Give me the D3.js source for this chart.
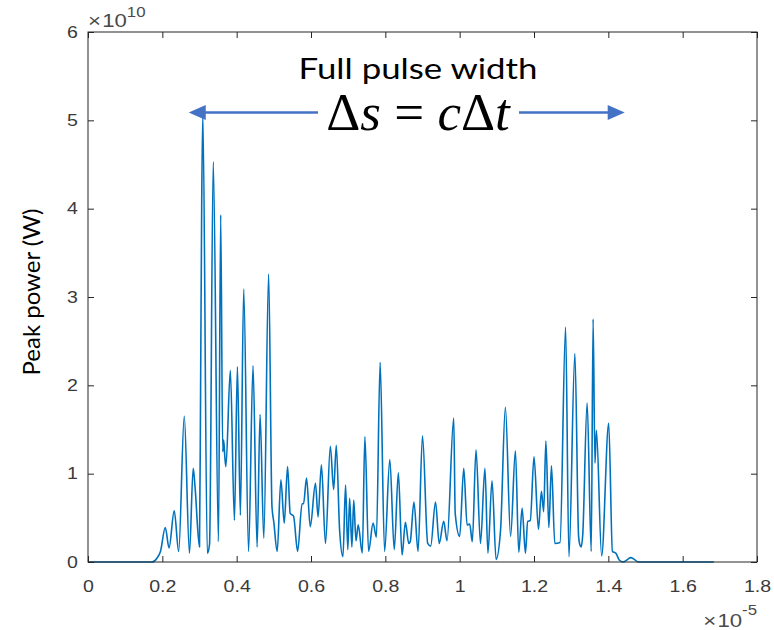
<!DOCTYPE html>
<html>
<head>
<meta charset="utf-8">
<script src="https://cdn.jsdelivr.net/npm/d3@7"></script>
<style>
  html, body { margin: 0; padding: 0; background: #fff; }
  svg { display: block; }
</style>
</head>
<body>
<svg id="chart" width="774" height="630"></svg>
<script>
// time in units of 1e-5 s
const time = [0, 0.172, 0.185, 0.195, 0.208, 0.218, 0.232, 0.244, 0.259, 0.273, 0.283, 0.288, 0.300,
  0.303, 0.306, 0.309, 0.321, 0.327, 0.337, 0.351, 0.357, 0.3625, 0.365, 0.368, 0.371, 0.383, 0.394,
  0.402, 0.410, 0.419, 0.432, 0.444, 0.455, 0.463, 0.473, 0.486, 0.495, 0.500, 0.509, 0.519, 0.528,
  0.537, 0.544, 0.553, 0.564, 0.576, 0.580, 0.588, 0.598, 0.612, 0.619, 0.628, 0.639, 0.652, 0.661,
  0.668, 0.677, 0.686, 0.693, 0.699, 0.704, 0.710, 0.715, 0.721, 0.727, 0.738, 0.745, 0.755, 0.767,
  0.776, 0.786, 0.798, 0.812, 0.824, 0.835, 0.845, 0.854, 0.863, 0.867, 0.877, 0.888, 0.900, 0.914,
  0.922, 0.935, 0.945, 0.957, 0.966, 0.984, 0.988, 1.000, 1.011, 1.020, 1.027, 1.034, 1.044, 1.056,
  1.068, 1.076, 1.087, 1.098, 1.110, 1.123, 1.137, 1.150, 1.159, 1.168, 1.177, 1.183, 1.190, 1.200,
  1.212, 1.220, 1.226, 1.232, 1.240, 1.247, 1.256, 1.270, 1.285, 1.294, 1.310, 1.320, 1.323, 1.327,
  1.331, 1.343, 1.354, 1.359, 1.364, 1.368, 1.382, 1.401, 1.411, 1.420, 1.430, 1.441, 1.452, 1.460,
  1.470, 1.480, 1.684];
// peak power in units of 1e10 W
const power = [0, 0, 0.04, 0.12, 0.39, 0.16, 0.58, 0.12, 1.65, 0.10, 1.06, 0.85, 0.17,
  2.0, 4.1, 5.08, 0.10, 0.2, 4.53, 0.23, 3.93, 1.25, 1.38, 1.2, 1.08, 2.17, 0.47,
  2.21, 0.53, 3.09, 0.12, 2.22, 0.17, 1.67, 0.27, 3.26, 0.63, 0.45, 0.12, 0.93, 0.44,
  1.08, 0.55, 0.52, 0.12, 0.66, 0.66, 0.95, 0.40, 0.89, 0.51, 1.10, 0.21, 1.31, 0.82,
  1.32, 0.36, 0.06, 0.87, 0.14, 0.72, 0.17, 0.70, 0.24, 0.42, 0.10, 1.42, 0.12, 0.44,
  0.28, 2.26, 0.12, 1.16, 0.14, 1.01, 0.08, 0.45, 0.21, 0.23, 0.68, 0.12, 1.43, 0.21,
  0.18, 0.68, 0.21, 0.46, 0.24, 1.63, 0.55, 0.29, 1.06, 0.42, 0.43, 0.23, 1.27, 0.21,
  1.06, 0.10, 0.92, 0.03, 0.36, 1.75, 0.29, 1.26, 0.11, 0.61, 0.10, 0.46, 0.47, 1.19,
  0.37, 0.80, 0.57, 1.37, 0.39, 1.09, 0.21, 0.22, 2.66, 0.06, 2.36, 0.29, 0.2, 0.17,
  0.3, 1.80, 0.12, 2.75, 1.12, 1.49, 0.07, 1.57, 0.12, 0.10, 0.02, 0.0, 0.03, 0.05,
  0.03, 0.0, 0];

const xTicks = [0, 0.2, 0.4, 0.6, 0.8, 1, 1.2, 1.4, 1.6, 1.8];
const yTicks = [0, 1, 2, 3, 4, 5, 6];
const xTickLabels = ["0", "0.2", "0.4", "0.6", "0.8", "1", "1.2", "1.4", "1.6", "1.8"];
const yTickLabels = ["0", "1", "2", "3", "4", "5", "6"];
const yLabel = "Peak power (W)";
const titleText = "Full pulse width";
// arrow annotation extent (data units)
const arrowStart = 0.271, arrowEnd = 1.444, arrowLevel = 5.09;

const svg = d3.select("#chart");
const mLeft = 88, mRight = 757, mTop = 32, mBottom = 562;
const x = d3.scaleLinear().domain([0, 1.8]).range([mLeft, mRight]);
const y = d3.scaleLinear().domain([0, 6]).range([mBottom, mTop]);
const axisColor = "#262626";
const labelColor = "#3a3a3a";
const tickFont = "'Liberation Sans', Arial, sans-serif";
const SX = 1.2; // horizontal stretch of the reference's text
const tickSize = 16.3;

// data line
const data = time.map((t, i) => ({ t, p: power[i] }));
svg.append("path")
  .datum(data)
  .attr("fill", "none")
  .attr("stroke", "#0072BD")
  .attr("stroke-width", 1.6)
  .attr("stroke-linejoin", "round")
  .attr("d", d3.line().x(d => x(d.t)).y(d => y(d.p)).curve(d3.curveMonotoneX));

// axes
function styleAxis(g) {
  g.select(".domain").remove();
  g.selectAll(".tick line").attr("stroke", axisColor);
  g.selectAll(".tick text").attr("fill", labelColor).attr("font-family", tickFont)
    .attr("font-size", tickSize).attr("transform", `scale(${SX},1)`);
}
svg.append("g").attr("transform", `translate(0,${mBottom})`)
  .call(d3.axisBottom(x).tickValues(xTicks).tickFormat((d, i) => xTickLabels[i]).tickSizeInner(-6).tickSizeOuter(0).tickPadding(18))
  .call(styleAxis);
svg.append("g").attr("transform", `translate(0,${mTop})`)
  .call(d3.axisTop(x).tickValues(xTicks).tickFormat("").tickSizeInner(-6).tickSizeOuter(0))
  .call(styleAxis);
svg.append("g").attr("transform", `translate(${mLeft},0)`)
  .call(d3.axisLeft(y).tickValues(yTicks).tickFormat((d, i) => yTickLabels[i]).tickSizeInner(-6).tickSizeOuter(0).tickPadding(8.5))
  .call(styleAxis);
svg.append("g").attr("transform", `translate(${mRight},0)`)
  .call(d3.axisRight(y).tickValues(yTicks).tickFormat("").tickSizeInner(-6).tickSizeOuter(0))
  .call(styleAxis);
svg.append("rect")
  .attr("x", mLeft).attr("y", mTop).attr("width", mRight - mLeft).attr("height", mBottom - mTop)
  .attr("fill", "none").attr("stroke", axisColor).attr("stroke-width", 1);

// exponent labels
function expLabel(px, py, anchor, exp, dy) {
  const t = svg.append("g").attr("transform", `translate(${px},${py}) scale(1.2,1)`)
    .append("text").attr("fill", "#4a4a4a").attr("font-family", tickFont)
    .attr("font-size", 18.5).attr("text-anchor", anchor);
  t.append("tspan").text("\u00d7");
  t.append("tspan").attr("dx", 1).text("10");
  t.append("tspan").attr("font-size", 14).attr("dy", dy).text(exp);
}
expLabel(mLeft, 27, "start", "10", -10);
expLabel(mRight, 627, "end", "-5", -12);

// y label
svg.append("text")
  .attr("transform", `translate(40,292) rotate(-90)`)
  .attr("text-anchor", "middle")
  .attr("font-family", "Lato, 'Open Sans', sans-serif")
  .attr("font-size", 24)
  .attr("fill", "#000")
  .text(yLabel);

// annotation
const annColor = "#4472C4";
const midX = 418;
svg.append("g").attr("transform", `translate(${midX},79) scale(${SX},1)`)
  .append("text")
  .attr("text-anchor", "middle")
  .attr("font-family", "Lato, 'Open Sans', sans-serif")
  .attr("font-size", 29)
  .attr("fill", "#000")
  .text(titleText);

const eq = svg.append("text")
  .attr("x", midX).attr("y", 130)
  .attr("text-anchor", "middle")
  .attr("font-family", "'Liberation Serif', 'DejaVu Serif', serif")
  .attr("font-size", 53)
  .attr("fill", "#000");
eq.append("tspan").text("\u0394");
eq.append("tspan").attr("font-style", "italic").text("s");
eq.append("tspan").text(" = ");
eq.append("tspan").attr("font-style", "italic").text("c");
eq.append("tspan").text("\u0394");
eq.append("tspan").attr("font-style", "italic").text("t");

const ay = y(arrowLevel);
const ax0 = x(arrowStart), ax1 = x(arrowEnd);
svg.append("line").attr("x1", ax0 + 14).attr("x2", 318).attr("y1", ay).attr("y2", ay)
  .attr("stroke", annColor).attr("stroke-width", 2.5);
svg.append("line").attr("x1", 519).attr("x2", ax1 - 14).attr("y1", ay).attr("y2", ay)
  .attr("stroke", annColor).attr("stroke-width", 2.5);
svg.append("path").attr("d", `M${ax0},${ay} L${ax0 + 17},${ay - 7.5} L${ax0 + 17},${ay + 7.5} Z`).attr("fill", annColor);
svg.append("path").attr("d", `M${ax1},${ay} L${ax1 - 17},${ay - 7.5} L${ax1 - 17},${ay + 7.5} Z`).attr("fill", annColor);
</script>
</body>
</html>
